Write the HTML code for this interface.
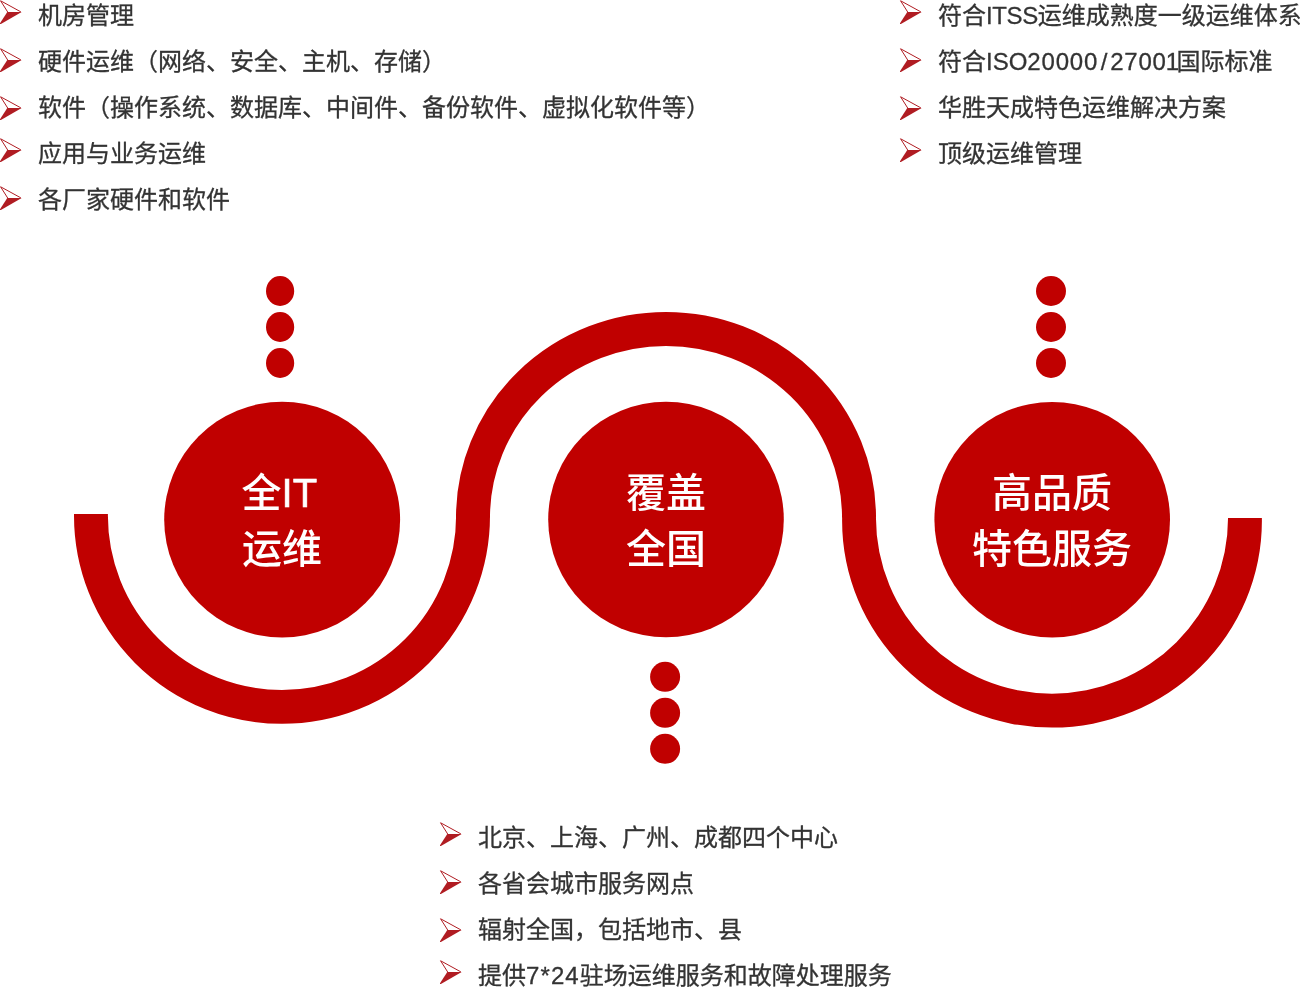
<!DOCTYPE html>
<html lang="zh-CN">
<head>
<meta charset="utf-8">
<title>运维服务</title>
<style>
html,body{margin:0;padding:0;background:#fff;}
body{width:1300px;height:988px;position:relative;overflow:hidden;font-family:"Liberation Sans","Noto Sans CJK SC",sans-serif;}
#art{position:absolute;left:0;top:0;width:1300px;height:988px;}
.t{position:absolute;will-change:transform;white-space:nowrap;font-size:24px;line-height:46px;height:46px;color:#333;-webkit-text-stroke:0.3px #333;}
.c{position:absolute;will-change:transform;width:240px;text-align:center;white-space:nowrap;font-size:40px;line-height:56px;color:#fff;font-weight:500;}
</style>
</head>
<body>
<svg id="art" width="1300" height="988" viewBox="0 0 1300 988">
  <defs>
    <g id="ar">
      <path d="M20.9,11.9 L0.55,0.75 L7.8,12.2" fill="none" stroke="#B01C22" stroke-width="1" stroke-linejoin="miter"/>
      <path d="M7.3,12 L21.7,11.9 L0.9,23.9 L0,24 L0,23.2 Z" fill="#B01C22"/>
    </g>
    <clipPath id="cl"><rect x="0" y="514" width="282" height="474"/><rect x="282" y="516.5" width="300" height="474"/></clipPath>
    <clipPath id="cm"><rect x="400" y="0" width="600" height="517.5"/></clipPath>
    <clipPath id="cr"><rect x="800" y="516.5" width="252" height="474"/><rect x="1052" y="518" width="248" height="470"/></clipPath>
  </defs>
  <!-- wave -->
  <circle cx="282" cy="515.8" r="191.05" fill="none" stroke="#C00000" stroke-width="33.9" clip-path="url(#cl)"/>
  <ellipse cx="666" cy="517.3" rx="193" ry="188.3" fill="none" stroke="#C00000" stroke-width="34" clip-path="url(#cm)"/>
  <path fill="#C00000" fill-rule="evenodd" clip-path="url(#cr)" d="M842.1,521 a209.9,206.6 0 1 0 419.8,0 a209.9,206.6 0 1 0 -419.8,0 Z M875.95,517.7 a176.05,176 0 1 0 352.1,0 a176.05,176 0 1 0 -352.1,0 Z"/>
  <!-- big circles -->
  <circle cx="282.15" cy="519.65" r="117.95" fill="#C00000"/>
  <circle cx="666" cy="519.55" r="117.8" fill="#C00000"/>
  <circle cx="1052.2" cy="519.7" r="117.8" fill="#C00000"/>
  <!-- dots -->
  <g fill="#C00000">
    <ellipse cx="280.1" cy="291" rx="14.1" ry="15"/><ellipse cx="280.1" cy="327" rx="14.1" ry="15"/><ellipse cx="280.1" cy="363" rx="14.1" ry="15"/>
    <circle cx="1051" cy="291" r="15"/><circle cx="1051" cy="327" r="15"/><circle cx="1051" cy="363" r="15"/>
    <circle cx="665.1" cy="676.8" r="15"/><circle cx="665.1" cy="712.8" r="15"/><circle cx="665.1" cy="748.8" r="15"/>
  </g>
  <!-- arrows -->
  <use href="#ar" x="0" y="0"/><use href="#ar" x="0" y="48"/><use href="#ar" x="0" y="96"/><use href="#ar" x="0" y="138"/><use href="#ar" x="0" y="186"/>
  <use href="#ar" x="900" y="0"/><use href="#ar" x="900" y="48"/><use href="#ar" x="900" y="96"/><use href="#ar" x="900" y="138"/>
  <use href="#ar" x="440" y="822"/><use href="#ar" x="440" y="870"/><use href="#ar" x="440" y="918"/><use href="#ar" x="440" y="960"/>
</svg>

<div class="t" style="left:38px;top:-7px">机房管理</div>
<div class="t" style="left:38px;top:39px">硬件运维（网络、安全、主机、存储）</div>
<div class="t" style="left:38px;top:85px">软件（操作系统、数据库、中间件、备份软件、虚拟化软件等）</div>
<div class="t" style="left:38px;top:131px">应用与业务运维</div>
<div class="t" style="left:38px;top:177px">各厂家硬件和软件</div>

<div class="t" style="left:938px;top:-7px">符合<span style="letter-spacing:-0.4px">ITSS</span>运维成熟度一级运维体系</div>
<div class="t" style="left:938px;top:39px">符合ISO<span style="letter-spacing:0.8px">20000</span><span style="margin:0 2.7px">/</span><span style="letter-spacing:0.8px">2700</span><span style="margin:0 -2.6px 0 -1px">1</span>国际标准</div>
<div class="t" style="left:938px;top:85px">华胜天成特色运维解决方案</div>
<div class="t" style="left:938px;top:131px">顶级运维管理</div>

<div class="t" style="left:478px;top:815px">北京、上海、广州、成都四个中心</div>
<div class="t" style="left:478px;top:861px">各省会城市服务网点</div>
<div class="t" style="left:478px;top:907px">辐射全国，包括地市、县</div>
<div class="t" style="left:478px;top:953px">提供<span style="letter-spacing:1.1px">7*24</span>驻场运维服务和故障处理服务</div>

<div class="c" style="left:162px;top:464.5px"><span style="position:relative;left:-2.7px">全<span style="-webkit-text-stroke:0.6px #fff">IT</span></span><br>运维</div>
<div class="c" style="left:546px;top:464.5px">覆盖<br>全国</div>
<div class="c" style="left:932px;top:464.5px">高品质<br>特色服务</div>
</body>
</html>
